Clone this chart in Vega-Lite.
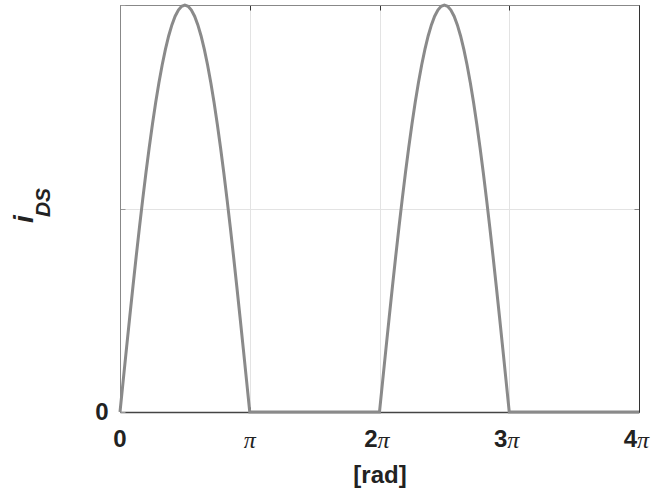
{
  "$schema": "https://vega.github.io/schema/vega-lite/v6.json",
  "width": 519,
  "height": 407,
  "autosize": {"type": "none"},
  "padding": {"left": 120, "top": 5, "right": 12, "bottom": 84},
  "background": "white",
  "view": {"stroke": null},
  "datasets": {
    "curve": [
      {"x": 0, "y": 0}, {"x": 0.025, "y": 0.0785}, {"x": 0.05, "y": 0.1564}, {"x": 0.075, "y": 0.2334}, {"x": 0.1, "y": 0.309},
      {"x": 0.125, "y": 0.3827}, {"x": 0.15, "y": 0.454}, {"x": 0.175, "y": 0.5225}, {"x": 0.2, "y": 0.5878}, {"x": 0.225, "y": 0.6494},
      {"x": 0.25, "y": 0.7071}, {"x": 0.275, "y": 0.7604}, {"x": 0.3, "y": 0.809}, {"x": 0.325, "y": 0.8526}, {"x": 0.35, "y": 0.891},
      {"x": 0.375, "y": 0.9239}, {"x": 0.4, "y": 0.9511}, {"x": 0.425, "y": 0.9724}, {"x": 0.45, "y": 0.9877}, {"x": 0.475, "y": 0.9969},
      {"x": 0.5, "y": 1},
      {"x": 0.525, "y": 0.9969}, {"x": 0.55, "y": 0.9877}, {"x": 0.575, "y": 0.9724}, {"x": 0.6, "y": 0.9511}, {"x": 0.625, "y": 0.9239},
      {"x": 0.65, "y": 0.891}, {"x": 0.675, "y": 0.8526}, {"x": 0.7, "y": 0.809}, {"x": 0.725, "y": 0.7604}, {"x": 0.75, "y": 0.7071},
      {"x": 0.775, "y": 0.6494}, {"x": 0.8, "y": 0.5878}, {"x": 0.825, "y": 0.5225}, {"x": 0.85, "y": 0.454}, {"x": 0.875, "y": 0.3827},
      {"x": 0.9, "y": 0.309}, {"x": 0.925, "y": 0.2334}, {"x": 0.95, "y": 0.1564}, {"x": 0.975, "y": 0.0785},
      {"x": 1, "y": 0}, {"x": 2, "y": 0},
      {"x": 2.025, "y": 0.0785}, {"x": 2.05, "y": 0.1564}, {"x": 2.075, "y": 0.2334}, {"x": 2.1, "y": 0.309},
      {"x": 2.125, "y": 0.3827}, {"x": 2.15, "y": 0.454}, {"x": 2.175, "y": 0.5225}, {"x": 2.2, "y": 0.5878}, {"x": 2.225, "y": 0.6494},
      {"x": 2.25, "y": 0.7071}, {"x": 2.275, "y": 0.7604}, {"x": 2.3, "y": 0.809}, {"x": 2.325, "y": 0.8526}, {"x": 2.35, "y": 0.891},
      {"x": 2.375, "y": 0.9239}, {"x": 2.4, "y": 0.9511}, {"x": 2.425, "y": 0.9724}, {"x": 2.45, "y": 0.9877}, {"x": 2.475, "y": 0.9969},
      {"x": 2.5, "y": 1},
      {"x": 2.525, "y": 0.9969}, {"x": 2.55, "y": 0.9877}, {"x": 2.575, "y": 0.9724}, {"x": 2.6, "y": 0.9511}, {"x": 2.625, "y": 0.9239},
      {"x": 2.65, "y": 0.891}, {"x": 2.675, "y": 0.8526}, {"x": 2.7, "y": 0.809}, {"x": 2.725, "y": 0.7604}, {"x": 2.75, "y": 0.7071},
      {"x": 2.775, "y": 0.6494}, {"x": 2.8, "y": 0.5878}, {"x": 2.825, "y": 0.5225}, {"x": 2.85, "y": 0.454}, {"x": 2.875, "y": 0.3827},
      {"x": 2.9, "y": 0.309}, {"x": 2.925, "y": 0.2334}, {"x": 2.95, "y": 0.1564}, {"x": 2.975, "y": 0.0785},
      {"x": 3, "y": 0}, {"x": 4, "y": 0}
    ],
    "ticks": [
      {"v": 0, "d": "0", "p": ""},
      {"v": 1, "d": "", "p": "π"},
      {"v": 2, "d": "2", "p": "π"},
      {"v": 3, "d": "3", "p": "π"},
      {"v": 4, "d": "4", "p": "π"}
    ]
  },
  "resolve": {"axis": {"x": "independent", "y": "independent"}},
  "layer": [
    {
      "data": {"name": "curve"},
      "mark": {"type": "line", "color": "#8a8a8a", "strokeWidth": 3, "clip": false},
      "encoding": {
        "x": {
          "field": "x", "type": "quantitative",
          "scale": {"domain": [0, 4], "nice": false, "zero": false},
          "axis": {
            "orient": "bottom", "values": [0, 1, 2, 3, 4], "labels": false,
            "grid": true, "gridColor": "#e3e3e3", "tickSize": -5, "tickColor": "#444",
            "domainColor": "#444", "domainWidth": 1.5,
            "title": "[rad]", "titleFont": "Liberation Sans", "titleFontSize": 24, "titleFontWeight": "bold",
            "titleColor": "#222", "titleX": 259.5, "titleY": 70, "titleBaseline": "alphabetic", "titleAlign": "center"
          }
        },
        "y": {
          "field": "y", "type": "quantitative",
          "scale": {"domain": [0, 1], "nice": false},
          "axis": {
            "orient": "left", "values": [0, 0.5, 1],
            "labelExpr": "datum.value == 0 ? '0' : ''",
            "labelFont": "Liberation Sans", "labelFontSize": 24, "labelFontWeight": "bold", "labelColor": "#222",
            "labelPadding": 17, "labelBaseline": "middle",
            "grid": true, "gridColor": "#e3e3e3", "tickSize": -5, "tickColor": "#999",
            "domainColor": "#888", "title": null
          }
        }
      }
    },
    {
      "data": {"name": "ticks"},
      "transform": [{"filter": "datum.v >= 2"}],
      "mark": {"type": "text", "font": "Liberation Sans", "fontSize": 24, "fontWeight": "bold", "color": "#222", "align": "right", "baseline": "alphabetic", "dx": -2, "dy": 35},
      "encoding": {
        "x": {"field": "v", "type": "quantitative",
          "axis": {"orient": "top", "values": [0, 1, 2, 3, 4], "labels": false, "grid": false, "tickSize": -5, "tickColor": "#333", "domainColor": "#888", "title": null}},
        "y": {"datum": 0, "type": "quantitative",
          "axis": {"orient": "right", "values": [0, 0.5, 1], "labels": false, "grid": false, "tickSize": -5, "tickColor": "#888", "domainColor": "#333", "title": null}},
        "text": {"field": "d"}
      }
    },
    {
      "data": {"name": "ticks"},
      "transform": [{"filter": "datum.v >= 2"}],
      "mark": {"type": "text", "font": "Liberation Serif", "fontSize": 24, "fontStyle": "italic", "color": "#222", "align": "left", "baseline": "alphabetic", "dx": -2, "dy": 36},
      "encoding": {
        "x": {"field": "v", "type": "quantitative", "axis": null},
        "y": {"datum": 0, "type": "quantitative", "axis": null},
        "text": {"field": "p"}
      }
    },
    {
      "data": {"name": "ticks"},
      "transform": [{"filter": "datum.v == 0"}],
      "mark": {"type": "text", "font": "Liberation Sans", "fontSize": 24, "fontWeight": "bold", "color": "#222", "align": "center", "baseline": "alphabetic", "dy": 35},
      "encoding": {
        "x": {"field": "v", "type": "quantitative", "axis": null},
        "y": {"datum": 0, "type": "quantitative", "axis": null},
        "text": {"field": "d"}
      }
    },
    {
      "data": {"name": "ticks"},
      "transform": [{"filter": "datum.v == 1"}],
      "mark": {"type": "text", "font": "Liberation Serif", "fontSize": 24, "fontStyle": "italic", "color": "#222", "align": "center", "baseline": "alphabetic", "dy": 36},
      "encoding": {
        "x": {"field": "v", "type": "quantitative", "axis": null},
        "y": {"datum": 0, "type": "quantitative", "axis": null},
        "text": {"field": "p"}
      }
    },
    {
      "data": {"values": [{}]},
      "mark": {"type": "text", "text": "i", "font": "Liberation Sans", "fontSize": 28, "fontStyle": "italic", "fontWeight": "bold", "color": "#222", "align": "center", "baseline": "alphabetic", "angle": 270},
      "encoding": {
        "x": {"datum": -0.6705, "type": "quantitative", "axis": null},
        "y": {"datum": 0.4742, "type": "quantitative", "axis": null}
      }
    },
    {
      "data": {"values": [{}]},
      "mark": {"type": "text", "text": "DS", "font": "Liberation Sans", "fontSize": 21, "fontStyle": "italic", "fontWeight": "bold", "color": "#222", "align": "center", "baseline": "alphabetic", "angle": 270},
      "encoding": {
        "x": {"datum": -0.5395, "type": "quantitative", "axis": null},
        "y": {"datum": 0.5147, "type": "quantitative", "axis": null}
      }
    }
  ]
}
